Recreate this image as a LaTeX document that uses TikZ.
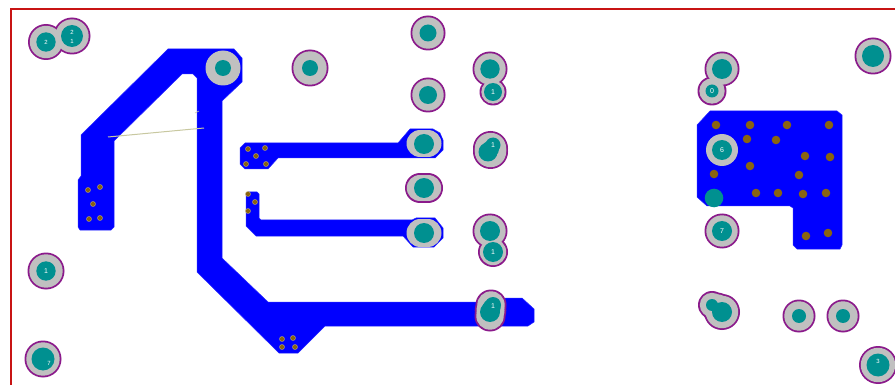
\documentclass[tikz,border=0pt]{standalone}
\usepackage{fontspec}
\setmainfont{Liberation Sans}
\definecolor{trace}{HTML}{0000FF}
\definecolor{padteal}{HTML}{009090}
\definecolor{padgray}{HTML}{C0C0C0}
\definecolor{padpurple}{HTML}{8B1A8B}
\definecolor{viabrown}{HTML}{8A6410}
\definecolor{viahalo}{HTML}{B8A468}
\definecolor{edgered}{HTML}{C81414}
\definecolor{silk}{HTML}{C8C8A0}
\tikzset{
  copper/.style={fill=trace,draw=trace!85!white,line width=0.5pt,line join=round},
  padlabel/.style={text=white,font=\fontsize{7}{7}\selectfont,inner sep=0pt},
  tinylabel/.style={text=white,font=\fontsize{6}{6}\selectfont,inner sep=0pt},
  boardedge/.style={draw=edgered,line width=2pt},
  silkline/.style={draw=silk,line width=1pt}
}
\begin{document}
\begin{tikzpicture}[x=1pt,y=-1pt]
\useasboundingbox (0,0) rectangle (895,385);
\fill[white] (0,0) rectangle (895,385);
\draw[boardedge] (11,385) -- (11,9) -- (895,9);
% copper
\fill[copper] (168,49) -- (234,49) -- (242,58) -- (242,82) -- (222,101) -- (222,258) -- (268,302) -- (505,302) -- (505,298) -- (522,298) -- (534,309) -- (534,322) -- (528,326) -- (325,326) -- (298,353) -- (279,353) -- (197,272) -- (197,78) -- (193,74) -- (182,74) -- (114,141) -- (114,227) -- (111,230) -- (80,230) -- (78,227) -- (78,180) -- (81,176) -- (81,135) -- cycle;
\fill[copper] (245,143) -- (398,143) -- (410,129) -- (433,129) -- (440,133) -- (443,140) -- (443,150) -- (435,158) -- (278,158) -- (268,169) -- (245,169) -- (240,164) -- (240,148) -- cycle;
\fill[copper] (246,194) -- (248,192) -- (257,192) -- (259,194) -- (259,218) -- (261,220) -- (412,220) -- (416,218) -- (435,218) -- (443,228) -- (443,238) -- (434,247) -- (413,247) -- (403,236) -- (256,236) -- (246,226) -- cycle;
\fill[copper] (710,111) -- (837,111) -- (842,115) -- (842,245) -- (840,249) -- (797,249) -- (793,245) -- (793,208) -- (790,206) -- (707,206) -- (697,197) -- (697,125) -- cycle;
% silkscreen
\draw[silkline] (108,137) -- (204,128);
\draw[silkline,line width=0.6pt] (195,113) -- (199,111);
% small vias
\foreach \x/\y in {88/190,100/187,93/204,89/219,100/218,248/149,265/148,256/156,246/164,266/164,248/194,255/202,248/211,282/339,293/338,282/347,295/347}{
  \fill[viahalo] (\x,\y) circle (2.8);
  \fill[viabrown] (\x,\y) circle (2.1);
}
\foreach \x/\y in {716/125,750/125,787/125,829/125,747/139,776/140,805/156,830/157,750/166,714/174,799/175,756/193,778/193,803/194,826/193,806/236,828/233}{
  \fill[viabrown] (\x,\y) circle (4.3);
}
% outlined pads: purple, then gray on top so that overlapping pads merge
\foreach \x/\y/\R in {46/42/18,72/36/18.5,310/68/18.5,428/33/17.5,428/95/17.5,490/69/17.5,493/92/13.5,490.5/148.5/17.5,490.5/150/17.5,490.5/151.5/17.5,490/231/17.5,493/252/15,491/305/15.5,490.5/310.5/15.8,490/316/15.5,46/271/18.5,43/359/18.5,722/69/17.5,712/91/14.5,722/231/17.5,873/56/18.5,712/305/14,717/308/15.5,722/312/18,799/316/16.5,843/316/16.5,878/365/19}{
  \fill[padpurple] (\x,\y) circle (\R);
}
\draw[padpurple,line width=30pt,line cap=round] (420,188) -- (428,188);
\foreach \x/\y/\R in {46/42/18,72/36/18.5,310/68/18.5,428/33/17.5,428/95/17.5,490/69/17.5,493/92/13.5,490.5/148.5/17.5,490.5/150/17.5,490.5/151.5/17.5,490/231/17.5,493/252/15,491/305/15.5,490.5/310.5/15.8,490/316/15.5,46/271/18.5,43/359/18.5,722/69/17.5,712/91/14.5,722/231/17.5,873/56/18.5,712/305/14,717/308/15.5,722/312/18,799/316/16.5,843/316/16.5,878/365/19}{
  \fill[padgray] (\x,\y) circle ({\R-1.8});
}
\draw[padgray,line width=26.4pt,line cap=round] (420,188) -- (428,188);
% pads without outline
\fill[padgray] (223,68) circle (17.5);
\fill[padgray] (722,150) circle (16);
\draw[padgray,line width=27pt,line cap=round] (420,143.5) -- (428,143.5);
\draw[padgray,line width=27pt,line cap=round] (420,233) -- (428,233);
% drill holes
\foreach \x/\y/\r in {46/42/9.7,72/36/11,223/68/8,310/68/8,428/33/8.5,428/95/9,490/69/9.7,493/92/9,488/152/9.5,490.5/149/8.5,493/145/7.5,424/144/10,424/188/10,424/233/10,490/231/10,493/252/10,490/312/10,491.5/308/9,493/305/8,46/271/9.7,43/359/11.5,722/69/10,712/91/6.5,722/150/10,714/198/9.3,722/231/10,873/56/11,712/305/6,722/312/10,799/316/7,843/316/7,878/365/11.5}{
  \fill[padteal] (\x,\y) circle (\r);
}
% labels
\node[tinylabel] (l2a) at (46,42) {2};
\node[tinylabel] (l2b) at (72,32) {2};
\node[tinylabel] (l1a) at (72,41) {1};
\node[padlabel] (l1b) at (493,92) {1};
\node[padlabel] (l1c) at (493,145) {1};
\node[padlabel] (l1d) at (493,252) {1};
\node[padlabel] (l1e) at (493,306) {1};
\node[padlabel] (l1f) at (46,271) {1};
\node[tinylabel] (l7a) at (49,363) {7};
\node[padlabel] (l0) at (712,91) {0};
\node[padlabel] (l6) at (722,150) {6};
\node[padlabel] (l7b) at (722,231) {7};
\node[tinylabel] (l3) at (878,361) {3};
\end{tikzpicture}
\end{document}
